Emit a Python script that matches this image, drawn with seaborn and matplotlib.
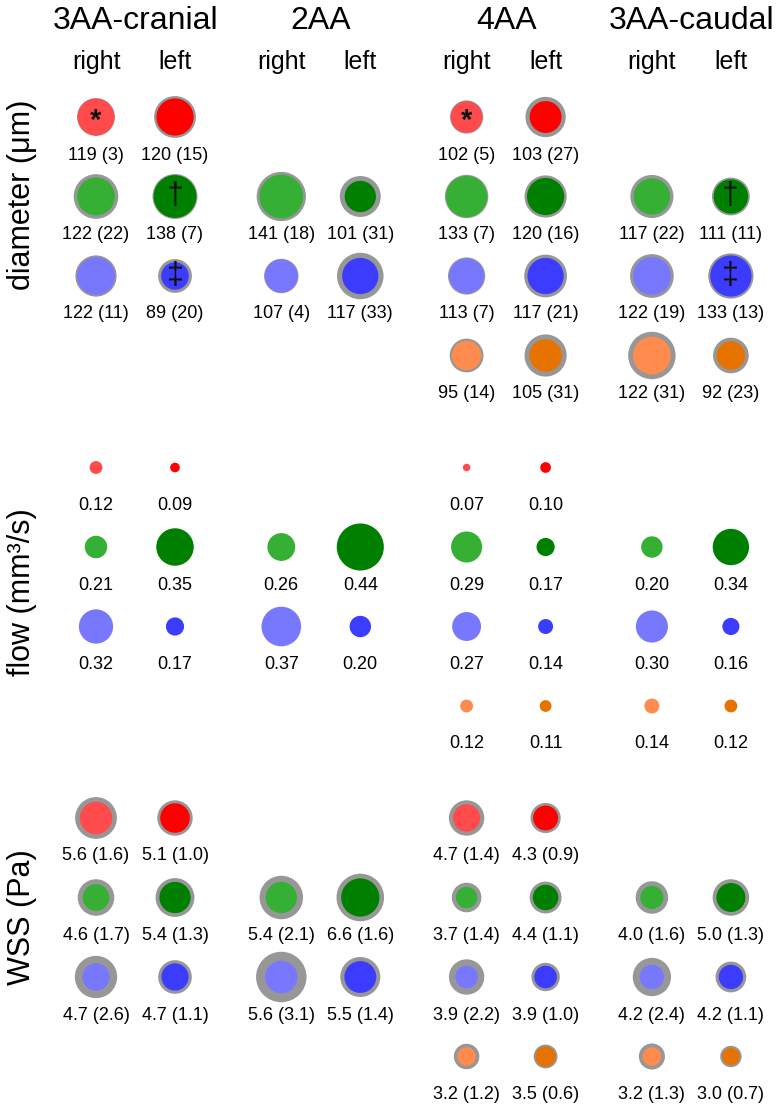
import numpy as np
import pandas as pd
import seaborn as sns
import matplotlib.pyplot as plt

sns.set_theme(style="white")
plt.rcParams['font.family'] = ['Liberation Sans', 'DejaVu Sans']
plt.rcParams['text.color'] = 'black'

groups = ["3AA-cranial", "2AA", "4AA", "3AA-caudal"]
sides = ["right", "left"]
vessels = ["red", "green", "blue", "orange"]

# values per column: (group, side) -> one value per vessel row, nan = not present
diam_mean = {
    ("3AA-cranial", "right"): [119, 122, 122, np.nan],
    ("3AA-cranial", "left"):  [120, 138, 89, np.nan],
    ("2AA", "right"):         [np.nan, 141, 107, np.nan],
    ("2AA", "left"):          [np.nan, 101, 117, np.nan],
    ("4AA", "right"):         [102, 133, 113, 95],
    ("4AA", "left"):          [103, 120, 117, 105],
    ("3AA-caudal", "right"):  [np.nan, 117, 122, 122],
    ("3AA-caudal", "left"):   [np.nan, 111, 133, 92],
}
diam_sd = {
    ("3AA-cranial", "right"): [3, 22, 11, np.nan],
    ("3AA-cranial", "left"):  [15, 7, 20, np.nan],
    ("2AA", "right"):         [np.nan, 18, 4, np.nan],
    ("2AA", "left"):          [np.nan, 31, 33, np.nan],
    ("4AA", "right"):         [5, 7, 7, 14],
    ("4AA", "left"):          [27, 16, 21, 31],
    ("3AA-caudal", "right"):  [np.nan, 22, 19, 31],
    ("3AA-caudal", "left"):   [np.nan, 11, 13, 23],
}
flow_mean = {
    ("3AA-cranial", "right"): [0.12, 0.21, 0.32, np.nan],
    ("3AA-cranial", "left"):  [0.09, 0.35, 0.17, np.nan],
    ("2AA", "right"):         [np.nan, 0.26, 0.37, np.nan],
    ("2AA", "left"):          [np.nan, 0.44, 0.20, np.nan],
    ("4AA", "right"):         [0.07, 0.29, 0.27, 0.12],
    ("4AA", "left"):          [0.10, 0.17, 0.14, 0.11],
    ("3AA-caudal", "right"):  [np.nan, 0.20, 0.30, 0.14],
    ("3AA-caudal", "left"):   [np.nan, 0.34, 0.16, 0.12],
}
wss_mean = {
    ("3AA-cranial", "right"): [5.6, 4.6, 4.7, np.nan],
    ("3AA-cranial", "left"):  [5.1, 5.4, 4.7, np.nan],
    ("2AA", "right"):         [np.nan, 5.4, 5.6, np.nan],
    ("2AA", "left"):          [np.nan, 6.6, 5.5, np.nan],
    ("4AA", "right"):         [4.7, 3.7, 3.9, 3.2],
    ("4AA", "left"):          [4.3, 4.4, 3.9, 3.5],
    ("3AA-caudal", "right"):  [np.nan, 4.0, 4.2, 3.2],
    ("3AA-caudal", "left"):   [np.nan, 5.0, 4.2, 3.0],
}
wss_sd = {
    ("3AA-cranial", "right"): [1.6, 1.7, 2.6, np.nan],
    ("3AA-cranial", "left"):  [1.0, 1.3, 1.1, np.nan],
    ("2AA", "right"):         [np.nan, 2.1, 3.1, np.nan],
    ("2AA", "left"):          [np.nan, 1.6, 1.4, np.nan],
    ("4AA", "right"):         [1.4, 1.4, 2.2, 1.2],
    ("4AA", "left"):          [0.9, 1.1, 1.0, 0.6],
    ("3AA-caudal", "right"):  [np.nan, 1.6, 2.4, 1.3],
    ("3AA-caudal", "left"):   [np.nan, 1.3, 1.1, 0.7],
}
# significance marks inside diameter circles
marks = {
    ("3AA-cranial", "right", "red"): "*",
    ("4AA", "right", "red"): "*",
    ("3AA-cranial", "left", "green"): "\u2020",
    ("3AA-caudal", "left", "green"): "\u2020",
    ("3AA-cranial", "left", "blue"): "\u2021",
    ("3AA-caudal", "left", "blue"): "\u2021",
}

measures = ["diameter", "flow", "WSS"]
ylabels = ["diameter (\u03bcm)", "flow (mm\u00b3/s)", "WSS (Pa)"]
px_per_unit = {"diameter": 0.31, "flow": 107.0, "WSS": 5.8}

palette = {
    "red-right": "#FF4B4B", "red-left": "#FF0000",
    "green-right": "#35B035", "green-left": "#008000",
    "blue-right": "#7878FF", "blue-left": "#3C3CFF",
    "orange-right": "#FF8B4E", "orange-left": "#E67300",
}
ring_color = "#979797"

# layout in pixel units
def col_x(g, s):
    return 96 + groups.index(g) * 185.3 + sides.index(s) * 79

def row_y(m, v):
    return 117 + measures.index(m) * 350.5 + vessels.index(v) * 79.5

rows = []
for g in groups:
    for s in sides:
        for i, v in enumerate(vessels):
            for m, mean, sd in [("diameter", diam_mean, diam_sd),
                                ("flow", flow_mean, None),
                                ("WSS", wss_mean, wss_sd)]:
                mu = mean[(g, s)][i]
                if np.isnan(mu):
                    continue
                dev = sd[(g, s)][i] if sd is not None else np.nan
                if m == "diameter":
                    lab = f"{mu:.0f} ({dev:.0f})"
                elif m == "flow":
                    lab = f"{mu:.2f}"
                else:
                    lab = f"{mu:.1f} ({dev:.1f})"
                rows.append(dict(group=g, side=s, vessel=v, measure=m,
                                 mean=mu, sd=dev, label=lab,
                                 key=f"{v}-{s}",
                                 x=col_x(g, s), y=row_y(m, v)))
df = pd.DataFrame(rows)

scale = df["measure"].map(px_per_unit)
pt = 72 / 100
df["s_in"] = (df["mean"] * scale * pt) ** 2
df["s_out"] = ((df["mean"] + df["sd"].fillna(0)) * scale * pt) ** 2

fig = plt.figure(figsize=(7.83, 11.09), dpi=100)
ax = fig.add_axes([0, 0, 1, 1])

outer = df[df["sd"].notna()]
sns.scatterplot(data=outer, x="x", y="y", color=ring_color, s=outer["s_out"].values,
                linewidth=0, legend=False, ax=ax)
sns.scatterplot(data=df, x="x", y="y", hue="key", palette=palette, s=df["s_in"].values,
                linewidth=0, legend=False, ax=ax)

for _, r in df.iterrows():
    ax.text(r["x"], r["y"] + 38, r["label"], ha="center", va="center", fontsize=13)
    if r["measure"] == "diameter":
        mk = marks.get((r["group"], r["side"], r["vessel"]))
        if mk == "*":
            ax.text(r["x"], r["y"] + 4, mk, ha="center", va="center", fontsize=21,
                    fontweight="bold", color="#111111")
        elif mk:
            ax.text(r["x"], r["y"], mk, ha="center", va="center", fontsize=22, color="#111111")

for g in groups:
    ax.text((col_x(g, "right") + col_x(g, "left")) / 2, 21, g, ha="center", va="center", fontsize=23)
    for s in sides:
        ax.text(col_x(g, s), 62, s, ha="center", va="center", fontsize=18)

for lab, yc in zip(ylabels, [195, 592, 917]):
    ax.text(22, yc, lab, rotation=90, ha="center", va="center", fontsize=22)

ax.set_xlim(0, 783)
ax.set_ylim(1109, 0)
ax.axis("off")
fig.savefig("out.png", dpi=100)
